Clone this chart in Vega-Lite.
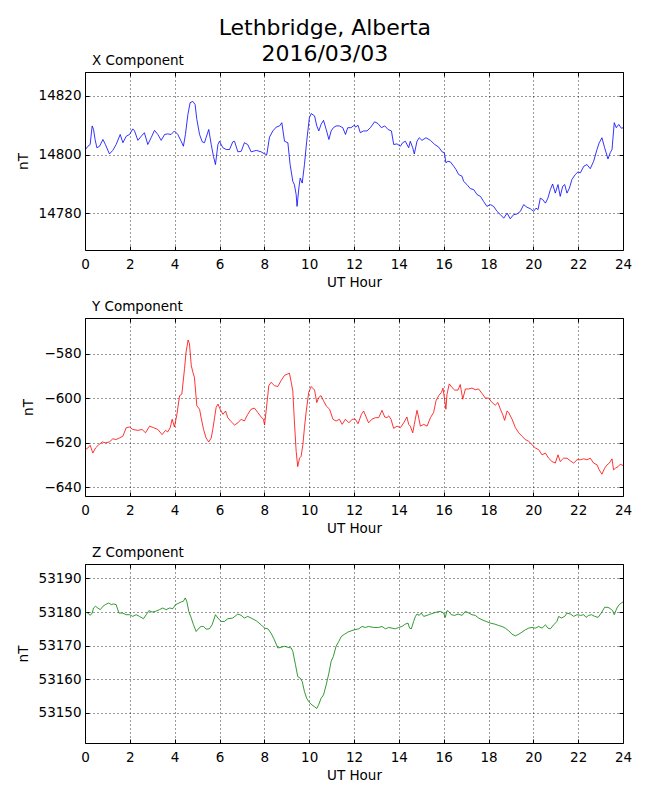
{
  "$schema": "https://vega.github.io/schema/vega-lite/v6.json",
  "padding": {"left": 15, "top": 16, "right": 5, "bottom": 5},
  "title": {
    "text": ["Lethbridge, Alberta", "2016/03/03"],
    "fontSize": 22,
    "fontWeight": "normal",
    "lineHeight": 26,
    "anchor": "middle",
    "frame": "bounds",
    "dx": 1,
    "offset": -12
  },
  "spacing": 9,
  "datasets": {
    "xc": [
      {"h": 0.02, "v": 14801.7}, {"h": 0.13, "v": 14802.8}, {"h": 0.23, "v": 14803.4}, {"h": 0.32, "v": 14809.7},
      {"h": 0.38, "v": 14808.5}, {"h": 0.45, "v": 14805.1}, {"h": 0.53, "v": 14802.3}, {"h": 0.65, "v": 14802.8},
      {"h": 0.80, "v": 14805.1}, {"h": 0.91, "v": 14803.4}, {"h": 1.09, "v": 14800.2}, {"h": 1.24, "v": 14801.4},
      {"h": 1.39, "v": 14803.4}, {"h": 1.57, "v": 14806.8}, {"h": 1.69, "v": 14804.0}, {"h": 1.84, "v": 14806.2},
      {"h": 1.99, "v": 14806.8}, {"h": 2.13, "v": 14808.7}, {"h": 2.21, "v": 14808.0}, {"h": 2.36, "v": 14804.8},
      {"h": 2.51, "v": 14806.2}, {"h": 2.65, "v": 14807.4}, {"h": 2.80, "v": 14803.4}, {"h": 2.95, "v": 14805.7},
      {"h": 3.10, "v": 14808.2}, {"h": 3.25, "v": 14806.8}, {"h": 3.40, "v": 14804.8}, {"h": 3.55, "v": 14806.8},
      {"h": 3.69, "v": 14807.0}, {"h": 3.84, "v": 14806.8}, {"h": 3.99, "v": 14808.0}, {"h": 4.14, "v": 14806.8},
      {"h": 4.29, "v": 14804.5}, {"h": 4.39, "v": 14802.8}, {"h": 4.48, "v": 14806.8}, {"h": 4.59, "v": 14813.6},
      {"h": 4.69, "v": 14817.6}, {"h": 4.81, "v": 14818.0}, {"h": 4.91, "v": 14817.0}, {"h": 4.99, "v": 14811.9},
      {"h": 5.11, "v": 14806.8}, {"h": 5.23, "v": 14804.3}, {"h": 5.33, "v": 14804.0}, {"h": 5.40, "v": 14805.7},
      {"h": 5.52, "v": 14808.5}, {"h": 5.63, "v": 14803.4}, {"h": 5.73, "v": 14799.4}, {"h": 5.82, "v": 14796.6},
      {"h": 5.93, "v": 14803.4}, {"h": 6.00, "v": 14804.5}, {"h": 6.15, "v": 14802.3}, {"h": 6.30, "v": 14801.7},
      {"h": 6.45, "v": 14801.7}, {"h": 6.59, "v": 14804.3}, {"h": 6.67, "v": 14804.5}, {"h": 6.82, "v": 14800.9},
      {"h": 6.97, "v": 14801.1}, {"h": 7.11, "v": 14804.0}, {"h": 7.26, "v": 14803.4}, {"h": 7.41, "v": 14800.9},
      {"h": 7.64, "v": 14801.4}, {"h": 7.86, "v": 14800.9}, {"h": 8.01, "v": 14800.2}, {"h": 8.11, "v": 14800.0},
      {"h": 8.23, "v": 14805.9}, {"h": 8.38, "v": 14808.0}, {"h": 8.53, "v": 14809.3}, {"h": 8.68, "v": 14809.7},
      {"h": 8.78, "v": 14810.8}, {"h": 8.90, "v": 14804.5}, {"h": 9.05, "v": 14804.0}, {"h": 9.15, "v": 14796.6},
      {"h": 9.27, "v": 14790.9}, {"h": 9.34, "v": 14789.8}, {"h": 9.42, "v": 14786.4}, {"h": 9.46, "v": 14782.4},
      {"h": 9.54, "v": 14788.6}, {"h": 9.60, "v": 14792.0}, {"h": 9.69, "v": 14790.3}, {"h": 9.79, "v": 14796.6},
      {"h": 9.89, "v": 14804.5}, {"h": 10.01, "v": 14812.5}, {"h": 10.09, "v": 14813.9}, {"h": 10.24, "v": 14813.1},
      {"h": 10.34, "v": 14809.7}, {"h": 10.43, "v": 14808.0}, {"h": 10.53, "v": 14810.2}, {"h": 10.64, "v": 14811.6},
      {"h": 10.76, "v": 14808.5}, {"h": 10.88, "v": 14805.1}, {"h": 10.98, "v": 14808.0}, {"h": 11.08, "v": 14809.1},
      {"h": 11.20, "v": 14809.7}, {"h": 11.35, "v": 14809.7}, {"h": 11.50, "v": 14809.1}, {"h": 11.62, "v": 14806.8},
      {"h": 11.72, "v": 14809.1}, {"h": 11.87, "v": 14809.1}, {"h": 12.02, "v": 14810.0}, {"h": 12.06, "v": 14809.3},
      {"h": 12.18, "v": 14809.9}, {"h": 12.28, "v": 14807.4}, {"h": 12.43, "v": 14808.0}, {"h": 12.58, "v": 14808.0},
      {"h": 12.73, "v": 14809.1}, {"h": 12.92, "v": 14811.1}, {"h": 13.07, "v": 14810.5}, {"h": 13.22, "v": 14809.1},
      {"h": 13.37, "v": 14809.7}, {"h": 13.52, "v": 14808.5}, {"h": 13.67, "v": 14808.0}, {"h": 13.77, "v": 14803.4},
      {"h": 13.92, "v": 14803.6}, {"h": 14.07, "v": 14802.8}, {"h": 14.17, "v": 14804.0}, {"h": 14.29, "v": 14804.5},
      {"h": 14.44, "v": 14802.3}, {"h": 14.51, "v": 14804.5}, {"h": 14.62, "v": 14802.3}, {"h": 14.69, "v": 14800.2},
      {"h": 14.81, "v": 14804.5}, {"h": 14.91, "v": 14805.7}, {"h": 15.03, "v": 14804.8}, {"h": 15.21, "v": 14805.7},
      {"h": 15.41, "v": 14804.8}, {"h": 15.60, "v": 14803.4}, {"h": 15.78, "v": 14802.5}, {"h": 15.93, "v": 14800.9},
      {"h": 16.03, "v": 14800.6}, {"h": 16.10, "v": 14797.2}, {"h": 16.19, "v": 14797.7}, {"h": 16.30, "v": 14797.5},
      {"h": 16.45, "v": 14796.0}, {"h": 16.55, "v": 14794.9}, {"h": 16.67, "v": 14793.2}, {"h": 16.82, "v": 14792.6},
      {"h": 16.89, "v": 14790.9}, {"h": 17.04, "v": 14789.8}, {"h": 17.19, "v": 14788.4}, {"h": 17.34, "v": 14788.1},
      {"h": 17.49, "v": 14786.4}, {"h": 17.64, "v": 14785.8}, {"h": 17.78, "v": 14784.1}, {"h": 17.93, "v": 14782.4},
      {"h": 18.08, "v": 14783.0}, {"h": 18.23, "v": 14782.4}, {"h": 18.38, "v": 14780.7}, {"h": 18.53, "v": 14779.6},
      {"h": 18.68, "v": 14778.4}, {"h": 18.83, "v": 14780.1}, {"h": 18.97, "v": 14778.2}, {"h": 19.12, "v": 14779.6},
      {"h": 19.27, "v": 14779.8}, {"h": 19.42, "v": 14780.7}, {"h": 19.57, "v": 14783.0}, {"h": 19.72, "v": 14782.1},
      {"h": 19.87, "v": 14781.6}, {"h": 20.01, "v": 14780.7}, {"h": 20.12, "v": 14781.8}, {"h": 20.21, "v": 14781.3},
      {"h": 20.31, "v": 14785.2}, {"h": 20.42, "v": 14784.7}, {"h": 20.54, "v": 14783.5}, {"h": 20.65, "v": 14785.2},
      {"h": 20.76, "v": 14788.1}, {"h": 20.86, "v": 14790.0}, {"h": 20.98, "v": 14786.9}, {"h": 21.10, "v": 14789.8},
      {"h": 21.20, "v": 14785.8}, {"h": 21.31, "v": 14789.2}, {"h": 21.40, "v": 14789.8}, {"h": 21.50, "v": 14786.9},
      {"h": 21.61, "v": 14788.6}, {"h": 21.72, "v": 14791.5}, {"h": 21.87, "v": 14793.2}, {"h": 21.99, "v": 14794.1},
      {"h": 22.10, "v": 14793.8}, {"h": 22.25, "v": 14796.0}, {"h": 22.39, "v": 14796.6}, {"h": 22.54, "v": 14795.2},
      {"h": 22.69, "v": 14797.7}, {"h": 22.84, "v": 14801.7}, {"h": 22.94, "v": 14804.0}, {"h": 23.06, "v": 14805.7},
      {"h": 23.18, "v": 14802.3}, {"h": 23.33, "v": 14798.5}, {"h": 23.43, "v": 14800.6}, {"h": 23.51, "v": 14801.7},
      {"h": 23.61, "v": 14810.8}, {"h": 23.70, "v": 14809.1}, {"h": 23.81, "v": 14810.2}, {"h": 23.93, "v": 14808.9},
      {"h": 24.00, "v": 14809.1}
    ],
    "yc": [
      {"h": 0.02, "v": -623.2}, {"h": 0.13, "v": -622.4}, {"h": 0.23, "v": -621.2}, {"h": 0.35, "v": -624.7},
      {"h": 0.47, "v": -622.4}, {"h": 0.62, "v": -620.9}, {"h": 0.77, "v": -619.7}, {"h": 0.91, "v": -620.1},
      {"h": 1.09, "v": -619.7}, {"h": 1.24, "v": -618.3}, {"h": 1.39, "v": -618.6}, {"h": 1.54, "v": -617.9},
      {"h": 1.69, "v": -617.1}, {"h": 1.84, "v": -613.3}, {"h": 1.99, "v": -613.0}, {"h": 2.13, "v": -614.1},
      {"h": 2.36, "v": -614.5}, {"h": 2.55, "v": -614.1}, {"h": 2.70, "v": -615.6}, {"h": 2.88, "v": -612.6},
      {"h": 3.06, "v": -613.3}, {"h": 3.25, "v": -614.1}, {"h": 3.44, "v": -616.4}, {"h": 3.59, "v": -614.5},
      {"h": 3.69, "v": -615.2}, {"h": 3.80, "v": -613.3}, {"h": 3.89, "v": -609.5}, {"h": 3.99, "v": -613.0},
      {"h": 4.10, "v": -607.3}, {"h": 4.22, "v": -598.9}, {"h": 4.32, "v": -598.2}, {"h": 4.44, "v": -586.8},
      {"h": 4.51, "v": -579.2}, {"h": 4.60, "v": -573.9}, {"h": 4.66, "v": -575.5}, {"h": 4.74, "v": -585.3},
      {"h": 4.81, "v": -588.3}, {"h": 4.88, "v": -590.6}, {"h": 4.99, "v": -603.5}, {"h": 5.11, "v": -605.0},
      {"h": 5.18, "v": -608.8}, {"h": 5.29, "v": -614.1}, {"h": 5.40, "v": -617.9}, {"h": 5.52, "v": -619.7},
      {"h": 5.63, "v": -617.9}, {"h": 5.70, "v": -614.1}, {"h": 5.78, "v": -608.8}, {"h": 5.85, "v": -604.2},
      {"h": 5.93, "v": -602.7}, {"h": 6.03, "v": -605.0}, {"h": 6.15, "v": -607.3}, {"h": 6.27, "v": -605.8},
      {"h": 6.37, "v": -608.8}, {"h": 6.52, "v": -610.6}, {"h": 6.67, "v": -612.1}, {"h": 6.82, "v": -611.1},
      {"h": 6.97, "v": -609.5}, {"h": 7.11, "v": -610.3}, {"h": 7.26, "v": -607.3}, {"h": 7.41, "v": -605.0},
      {"h": 7.56, "v": -604.5}, {"h": 7.71, "v": -606.5}, {"h": 7.86, "v": -608.5}, {"h": 7.96, "v": -609.5},
      {"h": 8.01, "v": -612.1}, {"h": 8.08, "v": -605.8}, {"h": 8.20, "v": -594.4}, {"h": 8.30, "v": -592.9},
      {"h": 8.45, "v": -594.4}, {"h": 8.60, "v": -594.8}, {"h": 8.75, "v": -592.1}, {"h": 8.90, "v": -589.8},
      {"h": 9.05, "v": -589.1}, {"h": 9.12, "v": -588.8}, {"h": 9.20, "v": -592.9}, {"h": 9.27, "v": -596.7},
      {"h": 9.34, "v": -610.3}, {"h": 9.42, "v": -623.9}, {"h": 9.49, "v": -630.8}, {"h": 9.57, "v": -627.0},
      {"h": 9.64, "v": -626.2}, {"h": 9.72, "v": -620.9}, {"h": 9.79, "v": -613.3}, {"h": 9.87, "v": -605.8},
      {"h": 9.98, "v": -597.4}, {"h": 10.09, "v": -594.8}, {"h": 10.24, "v": -596.4}, {"h": 10.34, "v": -602.0},
      {"h": 10.43, "v": -599.7}, {"h": 10.53, "v": -598.9}, {"h": 10.64, "v": -601.2}, {"h": 10.76, "v": -603.5},
      {"h": 10.91, "v": -605.0}, {"h": 11.06, "v": -609.5}, {"h": 11.20, "v": -610.3}, {"h": 11.35, "v": -609.5},
      {"h": 11.47, "v": -611.8}, {"h": 11.62, "v": -609.5}, {"h": 11.77, "v": -611.1}, {"h": 11.92, "v": -609.5},
      {"h": 12.06, "v": -609.5}, {"h": 12.18, "v": -611.5}, {"h": 12.33, "v": -607.3}, {"h": 12.43, "v": -605.8},
      {"h": 12.54, "v": -608.5}, {"h": 12.65, "v": -611.1}, {"h": 12.80, "v": -609.5}, {"h": 12.95, "v": -608.8},
      {"h": 13.10, "v": -608.8}, {"h": 13.25, "v": -605.5}, {"h": 13.37, "v": -608.5}, {"h": 13.47, "v": -608.8},
      {"h": 13.55, "v": -608.0}, {"h": 13.65, "v": -609.5}, {"h": 13.77, "v": -613.6}, {"h": 13.92, "v": -612.6},
      {"h": 14.07, "v": -613.3}, {"h": 14.22, "v": -611.1}, {"h": 14.36, "v": -608.5}, {"h": 14.44, "v": -611.8},
      {"h": 14.51, "v": -612.6}, {"h": 14.62, "v": -615.6}, {"h": 14.69, "v": -611.8}, {"h": 14.81, "v": -605.5},
      {"h": 14.88, "v": -608.5}, {"h": 14.96, "v": -612.6}, {"h": 15.11, "v": -611.8}, {"h": 15.26, "v": -612.6},
      {"h": 15.41, "v": -608.8}, {"h": 15.55, "v": -606.5}, {"h": 15.66, "v": -601.2}, {"h": 15.78, "v": -598.9},
      {"h": 15.90, "v": -597.4}, {"h": 15.97, "v": -595.5}, {"h": 16.04, "v": -600.5}, {"h": 16.10, "v": -605.0},
      {"h": 16.15, "v": -598.2}, {"h": 16.25, "v": -593.6}, {"h": 16.37, "v": -595.2}, {"h": 16.49, "v": -596.4},
      {"h": 16.64, "v": -596.4}, {"h": 16.74, "v": -593.9}, {"h": 16.85, "v": -600.5}, {"h": 16.97, "v": -595.9},
      {"h": 17.12, "v": -595.9}, {"h": 17.26, "v": -595.5}, {"h": 17.41, "v": -596.2}, {"h": 17.56, "v": -595.9},
      {"h": 17.71, "v": -597.9}, {"h": 17.86, "v": -600.0}, {"h": 18.01, "v": -600.0}, {"h": 18.16, "v": -602.0},
      {"h": 18.30, "v": -603.2}, {"h": 18.42, "v": -602.0}, {"h": 18.53, "v": -605.0}, {"h": 18.63, "v": -607.3},
      {"h": 18.72, "v": -610.0}, {"h": 18.83, "v": -605.8}, {"h": 18.90, "v": -606.5}, {"h": 19.05, "v": -609.5},
      {"h": 19.20, "v": -613.3}, {"h": 19.35, "v": -615.6}, {"h": 19.49, "v": -617.1}, {"h": 19.64, "v": -618.6},
      {"h": 19.79, "v": -619.4}, {"h": 19.94, "v": -620.9}, {"h": 20.09, "v": -622.4}, {"h": 20.24, "v": -623.2},
      {"h": 20.39, "v": -625.5}, {"h": 20.54, "v": -624.7}, {"h": 20.68, "v": -627.0}, {"h": 20.83, "v": -628.5},
      {"h": 20.98, "v": -629.2}, {"h": 21.10, "v": -625.5}, {"h": 21.20, "v": -628.5}, {"h": 21.35, "v": -627.0},
      {"h": 21.50, "v": -627.0}, {"h": 21.65, "v": -628.2}, {"h": 21.80, "v": -629.2}, {"h": 21.95, "v": -627.7},
      {"h": 22.10, "v": -627.7}, {"h": 22.25, "v": -627.3}, {"h": 22.39, "v": -627.7}, {"h": 22.54, "v": -627.0},
      {"h": 22.69, "v": -629.2}, {"h": 22.84, "v": -630.0}, {"h": 22.94, "v": -632.3}, {"h": 23.06, "v": -634.2},
      {"h": 23.18, "v": -631.5}, {"h": 23.29, "v": -630.0}, {"h": 23.39, "v": -629.2}, {"h": 23.51, "v": -627.3},
      {"h": 23.58, "v": -632.3}, {"h": 23.66, "v": -631.5}, {"h": 23.78, "v": -630.8}, {"h": 23.88, "v": -629.7},
      {"h": 24.00, "v": -630.3}
    ],
    "zc": [
      {"h": 0.02, "v": 53180.0}, {"h": 0.13, "v": 53179.7}, {"h": 0.23, "v": 53179.0}, {"h": 0.32, "v": 53179.7},
      {"h": 0.38, "v": 53181.2}, {"h": 0.47, "v": 53181.7}, {"h": 0.57, "v": 53181.2}, {"h": 0.68, "v": 53180.7},
      {"h": 0.80, "v": 53181.7}, {"h": 0.91, "v": 53182.2}, {"h": 1.06, "v": 53182.7}, {"h": 1.17, "v": 53182.2},
      {"h": 1.27, "v": 53182.4}, {"h": 1.39, "v": 53182.2}, {"h": 1.51, "v": 53179.7}, {"h": 1.66, "v": 53179.7},
      {"h": 1.84, "v": 53179.2}, {"h": 1.99, "v": 53179.2}, {"h": 2.13, "v": 53178.7}, {"h": 2.28, "v": 53179.2},
      {"h": 2.43, "v": 53178.7}, {"h": 2.61, "v": 53178.0}, {"h": 2.73, "v": 53179.2}, {"h": 2.85, "v": 53180.4},
      {"h": 3.00, "v": 53180.0}, {"h": 3.15, "v": 53180.2}, {"h": 3.32, "v": 53180.7}, {"h": 3.47, "v": 53181.2},
      {"h": 3.62, "v": 53180.7}, {"h": 3.77, "v": 53181.2}, {"h": 3.92, "v": 53181.0}, {"h": 4.04, "v": 53182.2},
      {"h": 4.14, "v": 53182.5}, {"h": 4.29, "v": 53183.0}, {"h": 4.39, "v": 53183.2}, {"h": 4.47, "v": 53184.2},
      {"h": 4.54, "v": 53183.2}, {"h": 4.63, "v": 53180.2}, {"h": 4.74, "v": 53178.2}, {"h": 4.84, "v": 53176.2},
      {"h": 4.96, "v": 53174.2}, {"h": 5.08, "v": 53175.2}, {"h": 5.18, "v": 53175.7}, {"h": 5.29, "v": 53175.7},
      {"h": 5.40, "v": 53174.9}, {"h": 5.55, "v": 53175.0}, {"h": 5.67, "v": 53176.2}, {"h": 5.82, "v": 53179.2},
      {"h": 5.93, "v": 53178.2}, {"h": 6.07, "v": 53177.2}, {"h": 6.22, "v": 53177.2}, {"h": 6.37, "v": 53178.0},
      {"h": 6.59, "v": 53178.2}, {"h": 6.82, "v": 53179.4}, {"h": 6.97, "v": 53179.0}, {"h": 7.11, "v": 53178.2},
      {"h": 7.26, "v": 53178.7}, {"h": 7.41, "v": 53178.2}, {"h": 7.64, "v": 53177.4}, {"h": 7.86, "v": 53176.2},
      {"h": 8.01, "v": 53175.2}, {"h": 8.16, "v": 53175.0}, {"h": 8.30, "v": 53173.7}, {"h": 8.45, "v": 53171.7},
      {"h": 8.60, "v": 53169.3}, {"h": 8.75, "v": 53169.5}, {"h": 8.90, "v": 53169.8}, {"h": 9.05, "v": 53169.5},
      {"h": 9.20, "v": 53169.3}, {"h": 9.27, "v": 53168.3}, {"h": 9.39, "v": 53164.3}, {"h": 9.49, "v": 53160.8},
      {"h": 9.60, "v": 53160.3}, {"h": 9.69, "v": 53159.3}, {"h": 9.79, "v": 53156.3}, {"h": 9.89, "v": 53154.3},
      {"h": 10.01, "v": 53153.1}, {"h": 10.13, "v": 53152.3}, {"h": 10.24, "v": 53151.8}, {"h": 10.34, "v": 53151.3},
      {"h": 10.43, "v": 53152.5}, {"h": 10.53, "v": 53154.3}, {"h": 10.64, "v": 53155.3}, {"h": 10.76, "v": 53158.3},
      {"h": 10.88, "v": 53161.8}, {"h": 10.98, "v": 53165.3}, {"h": 11.08, "v": 53166.8}, {"h": 11.20, "v": 53169.8},
      {"h": 11.32, "v": 53171.2}, {"h": 11.43, "v": 53172.7}, {"h": 11.58, "v": 53173.4}, {"h": 11.72, "v": 53174.0},
      {"h": 11.87, "v": 53174.4}, {"h": 12.02, "v": 53174.7}, {"h": 12.21, "v": 53175.0}, {"h": 12.36, "v": 53175.7},
      {"h": 12.51, "v": 53175.4}, {"h": 12.65, "v": 53175.7}, {"h": 12.88, "v": 53175.4}, {"h": 13.10, "v": 53175.4},
      {"h": 13.25, "v": 53175.7}, {"h": 13.40, "v": 53175.0}, {"h": 13.55, "v": 53175.4}, {"h": 13.70, "v": 53175.2},
      {"h": 13.84, "v": 53175.0}, {"h": 13.99, "v": 53175.4}, {"h": 14.14, "v": 53175.7}, {"h": 14.29, "v": 53176.4},
      {"h": 14.41, "v": 53176.7}, {"h": 14.48, "v": 53175.2}, {"h": 14.56, "v": 53175.0}, {"h": 14.66, "v": 53177.2},
      {"h": 14.74, "v": 53178.7}, {"h": 14.81, "v": 53179.4}, {"h": 14.91, "v": 53179.0}, {"h": 15.00, "v": 53179.7},
      {"h": 15.11, "v": 53178.7}, {"h": 15.26, "v": 53179.0}, {"h": 15.41, "v": 53179.4}, {"h": 15.55, "v": 53179.7},
      {"h": 15.70, "v": 53180.0}, {"h": 15.85, "v": 53180.2}, {"h": 16.00, "v": 53179.7}, {"h": 16.07, "v": 53178.4},
      {"h": 16.15, "v": 53180.4}, {"h": 16.22, "v": 53180.2}, {"h": 16.34, "v": 53179.2}, {"h": 16.49, "v": 53179.0},
      {"h": 16.64, "v": 53179.4}, {"h": 16.82, "v": 53179.0}, {"h": 16.97, "v": 53180.2}, {"h": 17.12, "v": 53179.7},
      {"h": 17.26, "v": 53179.2}, {"h": 17.41, "v": 53179.0}, {"h": 17.56, "v": 53178.2}, {"h": 17.71, "v": 53177.7},
      {"h": 17.89, "v": 53177.2}, {"h": 18.08, "v": 53176.7}, {"h": 18.28, "v": 53176.4}, {"h": 18.45, "v": 53176.0},
      {"h": 18.60, "v": 53175.7}, {"h": 18.75, "v": 53175.2}, {"h": 18.90, "v": 53174.4}, {"h": 19.05, "v": 53173.4},
      {"h": 19.20, "v": 53172.9}, {"h": 19.35, "v": 53173.4}, {"h": 19.49, "v": 53174.0}, {"h": 19.64, "v": 53174.7},
      {"h": 19.79, "v": 53175.2}, {"h": 19.94, "v": 53175.4}, {"h": 20.09, "v": 53175.2}, {"h": 20.24, "v": 53175.7},
      {"h": 20.39, "v": 53175.2}, {"h": 20.54, "v": 53176.2}, {"h": 20.65, "v": 53175.2}, {"h": 20.76, "v": 53175.0},
      {"h": 20.91, "v": 53176.2}, {"h": 21.05, "v": 53177.2}, {"h": 21.13, "v": 53178.7}, {"h": 21.25, "v": 53178.2},
      {"h": 21.40, "v": 53178.7}, {"h": 21.50, "v": 53179.7}, {"h": 21.65, "v": 53179.4}, {"h": 21.80, "v": 53178.7},
      {"h": 21.95, "v": 53179.2}, {"h": 22.10, "v": 53179.0}, {"h": 22.25, "v": 53179.2}, {"h": 22.35, "v": 53178.4},
      {"h": 22.47, "v": 53179.0}, {"h": 22.59, "v": 53179.2}, {"h": 22.74, "v": 53178.7}, {"h": 22.89, "v": 53178.4},
      {"h": 23.03, "v": 53179.7}, {"h": 23.18, "v": 53181.4}, {"h": 23.33, "v": 53181.4}, {"h": 23.43, "v": 53181.0},
      {"h": 23.54, "v": 53180.4}, {"h": 23.61, "v": 53179.2}, {"h": 23.73, "v": 53181.2}, {"h": 23.83, "v": 53182.2},
      {"h": 23.93, "v": 53182.7}, {"h": 24.00, "v": 53183.0}
    ]
  },
  "vconcat": [
    {
      "data": {"name": "xc"},
      "width": 538,
      "height": 178,
      "title": {"text": "X Component"},
      "layer": [
        {
          "mark": {"type": "line", "color": "#0000ff", "strokeWidth": 0.8},
          "encoding": {
            "x": {"field": "h", "type": "quantitative", "scale": {"domain": [0, 24], "nice": false}, "axis": {"title": "UT Hour"}},
            "y": {"field": "v", "type": "quantitative", "scale": {"domain": [14767.6, 14828], "nice": false, "zero": false},
              "axis": {"title": "nT", "values": [14780, 14800, 14820]}}
          }
        },
        {
          "mark": {"type": "line", "opacity": 0},
          "encoding": {
            "x": {"field": "h", "type": "quantitative", "axis": {"orient": "top", "labels": false, "grid": false, "title": null}},
            "y": {"field": "v", "type": "quantitative", "axis": {"orient": "right", "labels": false, "grid": false, "title": null, "values": [14780, 14800, 14820]}}
          }
        }
      ],
      "resolve": {"axis": {"x": "independent", "y": "independent"}}
    },
    {
      "data": {"name": "yc"},
      "width": 538,
      "height": 178,
      "title": {"text": "Y Component"},
      "layer": [
        {
          "mark": {"type": "line", "color": "#ff0000", "strokeWidth": 0.8},
          "encoding": {
            "x": {"field": "h", "type": "quantitative", "scale": {"domain": [0, 24], "nice": false}, "axis": {"title": "UT Hour"}},
            "y": {"field": "v", "type": "quantitative", "scale": {"domain": [-644, -564], "nice": false, "zero": false},
              "axis": {"title": "nT", "values": [-640, -620, -600, -580]}}
          }
        },
        {
          "mark": {"type": "line", "opacity": 0},
          "encoding": {
            "x": {"field": "h", "type": "quantitative", "axis": {"orient": "top", "labels": false, "grid": false, "title": null}},
            "y": {"field": "v", "type": "quantitative", "axis": {"orient": "right", "labels": false, "grid": false, "title": null, "values": [-640, -620, -600, -580]}}
          }
        }
      ],
      "resolve": {"axis": {"x": "independent", "y": "independent"}}
    },
    {
      "data": {"name": "zc"},
      "width": 538,
      "height": 179,
      "title": {"text": "Z Component"},
      "layer": [
        {
          "mark": {"type": "line", "color": "#008000", "strokeWidth": 0.8},
          "encoding": {
            "x": {"field": "h", "type": "quantitative", "scale": {"domain": [0, 24], "nice": false}, "axis": {"title": "UT Hour"}},
            "y": {"field": "v", "type": "quantitative", "scale": {"domain": [53141, 53194.3], "nice": false, "zero": false},
              "axis": {"title": "nT", "values": [53150, 53160, 53170, 53180, 53190]}}
          }
        },
        {
          "mark": {"type": "line", "opacity": 0},
          "encoding": {
            "x": {"field": "h", "type": "quantitative", "axis": {"orient": "top", "labels": false, "grid": false, "title": null}},
            "y": {"field": "v", "type": "quantitative", "axis": {"orient": "right", "labels": false, "grid": false, "title": null, "values": [53150, 53160, 53170, 53180, 53190]}}
          }
        }
      ],
      "resolve": {"axis": {"x": "independent", "y": "independent"}}
    }
  ],
  "config": {
    "font": "DejaVu Sans",
    "view": {"stroke": "#000000", "strokeWidth": 1},
    "title": {"fontSize": 13.5, "fontWeight": "normal", "anchor": "start", "frame": "group", "dx": 7, "offset": 4, "color": "#000000"},
    "axis": {
      "domain": false,
      "tickColor": "#000000",
      "tickSize": -4,
      "labelFontSize": 13.5,
      "labelColor": "#000000",
      "labelPadding": 8,
      "titleFontSize": 13.5,
      "titleFontWeight": "normal",
      "titleColor": "#000000",
      "gridColor": "#000000",
      "gridDash": [1, 3],
      "gridOpacity": 1,
      "gridWidth": 0.8,
      "format": "d"
    },
    "axisX": {
      "values": [0, 1, 2, 3, 4, 5, 6, 7, 8, 9, 10, 11, 12, 13, 14, 15, 16, 17, 18, 19, 20, 21, 22, 23, 24],
      "labelExpr": "datum.value % 2 == 0 ? datum.label : ''",
      "gridOpacity": {"condition": {"test": "datum.value % 2 == 1", "value": 0}, "value": 1},
      "labelFlush": false,
      "labelPadding": 11,
      "titlePadding": 5
    },
    "axisY": {
      "titlePadding": 8
    }
  }
}
